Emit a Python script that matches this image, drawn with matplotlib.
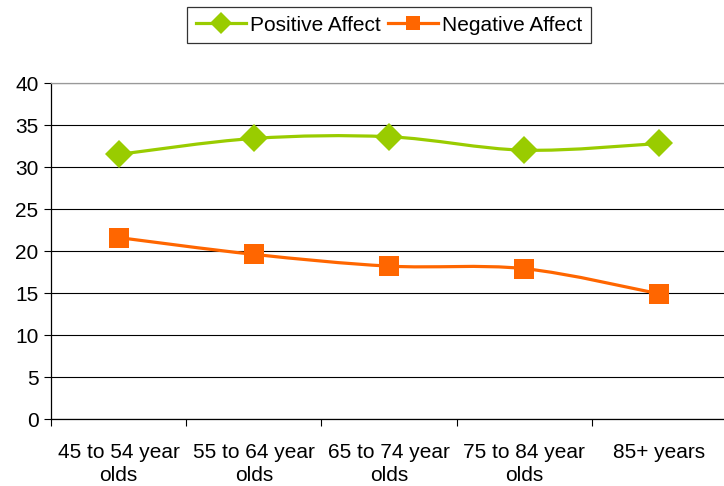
import matplotlib
matplotlib.use("Agg")
import matplotlib.pyplot as plt
from matplotlib.path import Path
from matplotlib.patches import PathPatch
from matplotlib.lines import Line2D
import numpy as np

categories = ["45 to 54 year\nolds", "55 to 64 year\nolds", "65 to 74 year\nolds",
              "75 to 84 year\nolds", "85+ years"]
positive = [31.5, 33.4, 33.6, 32.0, 32.8]
negative = [21.6, 19.6, 18.2, 17.9, 14.9]
yticks = [0, 5, 10, 15, 20, 25, 30, 35, 40]

GREEN = "#99CC00"
ORANGE = "#FF6600"
FONT = "Liberation Sans"
FS = 15

plt.rcParams['font.family'] = [FONT, 'DejaVu Sans']

fig = plt.figure(figsize=(7.24, 4.86), dpi=100)
ax = fig.add_axes([51/724, 1-419/486, (727-51)/724, (419-83)/486])


def smooth_path(xs, ys):
    pts = np.column_stack([xs, ys]).astype(float)
    n = len(pts)
    verts = [pts[0]]
    codes = [Path.MOVETO]
    for i in range(n - 1):
        p0 = pts[i - 1] if i > 0 else pts[i]
        p1 = pts[i]
        p2 = pts[i + 1]
        p3 = pts[i + 2] if i + 2 < n else pts[i + 1]
        c1 = p1 + (p2 - p0) / 6.0
        c2 = p2 - (p3 - p1) / 6.0
        verts += [c1, c2, p2]
        codes += [Path.CURVE4] * 3
    return Path(verts, codes)


x = np.arange(len(categories))
for vals, col, mk, ms in [(positive, GREEN, 'D', 14.5), (negative, ORANGE, 's', 14)]:
    ax.add_patch(PathPatch(smooth_path(x, vals), facecolor='none', edgecolor=col,
                           lw=2.3, zorder=3, capstyle='round'))
    ax.plot(x, vals, linestyle='none', marker=mk, ms=ms, color=col,
            markeredgewidth=0, zorder=4)

ax.set_xlim(-0.5, len(categories) - 0.5)
ax.set_ylim(0, 40)
ax.set_yticks(yticks)
ax.set_yticklabels([str(v) for v in yticks], fontsize=FS)
ax.yaxis.grid(True, color='black', lw=0.8)
ax.set_axisbelow(True)

ax.set_xticks(x)
ax.set_xticklabels(categories, fontsize=FS, linespacing=1.3)
ax.set_xticks(np.arange(-0.5, len(categories)), minor=True)
ax.tick_params(axis='x', which='major', length=0, pad=17)
ax.tick_params(axis='x', which='minor', length=5, width=0.8, direction='out', color='black')
ax.tick_params(axis='y', length=5, width=0.8, direction='out', pad=4, color='black')

for s in ['left', 'bottom']:
    ax.spines[s].set_color('black')
    ax.spines[s].set_linewidth(0.9)
ax.spines['top'].set_color('#999999')
ax.spines['top'].set_linewidth(0.9)
ax.spines['right'].set_visible(False)

handles = [Line2D([], [], color=GREEN, lw=2.3, marker='D', ms=11, markeredgewidth=0),
           Line2D([], [], color=ORANGE, lw=2.3, marker='s', ms=10.5, markeredgewidth=0)]
leg = fig.legend(handles, ["Positive Affect", "Negative Affect"], ncol=2,
                 loc='upper center', bbox_to_anchor=(389/724, 1-7/486),
                 fontsize=FS, frameon=True, fancybox=False, edgecolor='black',
                 handlelength=2.4, handletextpad=0.2, columnspacing=0.35,
                 borderpad=0.42, borderaxespad=0)
leg.get_frame().set_linewidth(0.9)

fig.savefig("out.png", dpi=100)
